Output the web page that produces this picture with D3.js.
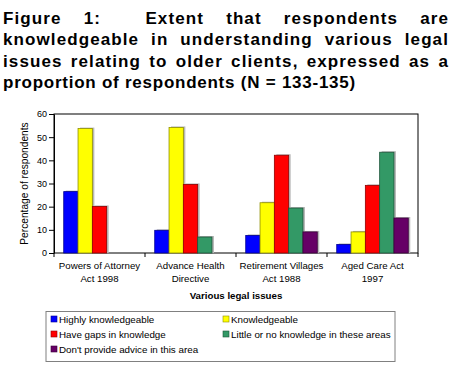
<!DOCTYPE html>
<html>
<head>
<meta charset="utf-8">
<script src="https://cdn.jsdelivr.net/npm/d3@7"></script>
<style>
  body { margin: 0; background: #fff; }
  svg { display: block; font-family: "Liberation Sans", Arial, sans-serif; }
</style>
</head>
<body>
<svg width="452" height="377"></svg>
<script>
// chart data
const categories = [
  ["Powers of Attorney", "Act 1998"],
  ["Advance Health", "Directive"],
  ["Retirement Villages", "Act 1988"],
  ["Aged Care Act", "1997"]
];
const seriesNames = [
  "Highly knowledgeable",
  "Knowledgeable",
  "Have gaps in knowledge",
  "Little or no knowledge in these areas",
  "Don't provide advice in this area"
];
const seriesColors = ["#0000ff", "#ffff00", "#ff0000", "#339966", "#660066"];
const highly     = [26.5, 9.8, 7.6, 3.7];
const knowl      = [53.7, 54.2, 21.7, 9.1];
const gaps       = [20.1, 29.6, 42.2, 29.2];
const little     = [0, 6.9, 19.4, 43.5];
const noAdvice   = [0, 0, 9.1, 15.1];
const yTicks = [0, 10, 20, 30, 40, 50, 60];
const titleLines = [
  "Figure 1:  Extent that respondents are",
  "knowledgeable in understanding various legal",
  "issues relating to older clients, expressed as a",
  "proportion of respondents (N = 133-135)"
];

const series = [highly, knowl, gaps, little, noAdvice];
const svg = d3.select("svg");
const margin = { top: 114, right: 34, bottom: 124, left: 54 };
const width = 452, height = 377;

// title: justified by word spacing, last line left aligned
const titleLeft = 3, titleRight = 449;
titleLines.forEach((t, i) => {
  const baseline = 24 + i * 21.4;
  const last = i === titleLines.length - 1;
  const words = t.split(" ");
  const g = svg.append("g");
  const items = [];
  let gaps = 0;
  words.forEach(w => {
    if (w === "") { gaps += 1; return; }
    const txt = g.append("text")
      .attr("y", baseline)
      .style("font-size", "17px")
      .style("font-weight", "bold")
      .style("letter-spacing", last ? "0.75px" : "1.1px")
      .style("fill", "#000")
      .text(w);
    items.push({ txt, w: txt.node().getComputedTextLength(), gapBefore: items.length ? 1 + gaps : 0 });
    gaps = 0;
  });
  const totalW = d3.sum(items, d => d.w);
  const totalGaps = d3.sum(items, d => d.gapBefore);
  const gapW = last ? 5.5 : (titleRight - titleLeft - totalW) / totalGaps;
  let cx = titleLeft;
  items.forEach(d => {
    cx += d.gapBefore * gapW;
    d.txt.attr("x", cx);
    cx += d.w;
  });
});

const x = d3.scaleBand()
  .domain(d3.range(categories.length))
  .range([margin.left, width - margin.right]);

const x1 = d3.scaleBand()
  .domain(d3.range(series.length))
  .range([0, x.bandwidth()])
  .paddingOuter(0.68);

const y = d3.scaleLinear()
  .domain([0, 60])
  .range([height - margin.bottom, margin.top]);

// plot frame
svg.append("rect")
  .attr("x", margin.left)
  .attr("y", margin.top)
  .attr("width", width - margin.right - margin.left)
  .attr("height", y(0) - margin.top)
  .attr("fill", "none")
  .attr("stroke", "#000")
  .attr("stroke-width", 1);

// bars
const rows = [];
categories.forEach((c, ci) => {
  series.forEach((s, si) => {
    if (s[ci] > 0) rows.push({ ci, si, v: s[ci] });
  });
});

svg.append("g").selectAll("rect")
  .data(rows)
  .enter()
  .append("rect")
  .attr("x", d => x(d.ci) + x1(d.si) + 2)
  .attr("y", d => y(d.v) - 1)
  .attr("width", x1.bandwidth())
  .attr("height", d => y(0) - y(d.v) + 1)
  .attr("fill", "#b8b8b8");

svg.append("g").selectAll("rect")
  .data(rows)
  .enter()
  .append("rect")
  .attr("x", d => x(d.ci) + x1(d.si))
  .attr("y", d => y(d.v))
  .attr("width", x1.bandwidth())
  .attr("height", d => y(0) - y(d.v))
  .attr("fill", d => seriesColors[d.si])
  .attr("stroke", d => d3.color(seriesColors[d.si]).darker(1.6))
  .attr("stroke-width", 0.8);

// y axis
const yAxis = svg.append("g")
  .attr("transform", `translate(${margin.left},0)`)
  .call(d3.axisLeft(y).tickValues(yTicks).tickSize(5).tickPadding(2).tickSizeOuter(0));
yAxis.select(".domain").attr("stroke", "#000");
yAxis.selectAll("text").style("font-size", "9px").style("fill", "#000");

// x axis ticks at band edges
const edges = d3.range(categories.length + 1).map(i => margin.left + i * x.bandwidth());
svg.append("g").selectAll("line")
  .data(edges)
  .enter()
  .append("line")
  .attr("x1", d => d).attr("x2", d => d)
  .attr("y1", y(0)).attr("y2", y(0) + 4)
  .attr("stroke", "#000");

// category labels
categories.forEach((c, ci) => {
  c.forEach((line, li) => {
    svg.append("text")
      .attr("x", x(ci) + x.bandwidth() / 2)
      .attr("y", 269 + li * 13)
      .attr("text-anchor", "middle")
      .style("font-size", "9.7px")
      .text(line);
  });
});

// axis titles
svg.append("text")
  .attr("x", (margin.left + width - margin.right) / 2)
  .attr("y", 299)
  .attr("text-anchor", "middle")
  .style("font-size", "9.7px")
  .style("font-weight", "bold")
  .text("Various legal issues");

svg.append("text")
  .attr("transform", `translate(28,${(margin.top + y(0)) / 2}) rotate(-90)`)
  .attr("text-anchor", "middle")
  .style("font-size", "10.2px")
  .text("Percentage of respondents");

// legend
const legend = svg.append("g");
legend.append("rect")
  .attr("x", 46).attr("y", 311.5)
  .attr("width", 349).attr("height", 50)
  .attr("fill", "#fff")
  .attr("stroke", "#808080")
  .attr("stroke-width", 1);

const legendPos = [[51, 322.5], [223, 322.5], [51, 337.5], [223, 337.5], [51, 352.5]];
seriesNames.forEach((n, i) => {
  const [lx, ly] = legendPos[i];
  legend.append("rect")
    .attr("x", lx).attr("y", ly - 6.5)
    .attr("width", 6).attr("height", 6)
    .attr("fill", seriesColors[i])
    .attr("stroke", d3.color(seriesColors[i]).darker(1.6))
    .attr("stroke-width", 0.6);
  legend.append("text")
    .attr("x", lx + 8).attr("y", ly)
    .style("font-size", "9.8px")
    .text(n);
});
</script>
</body>
</html>
